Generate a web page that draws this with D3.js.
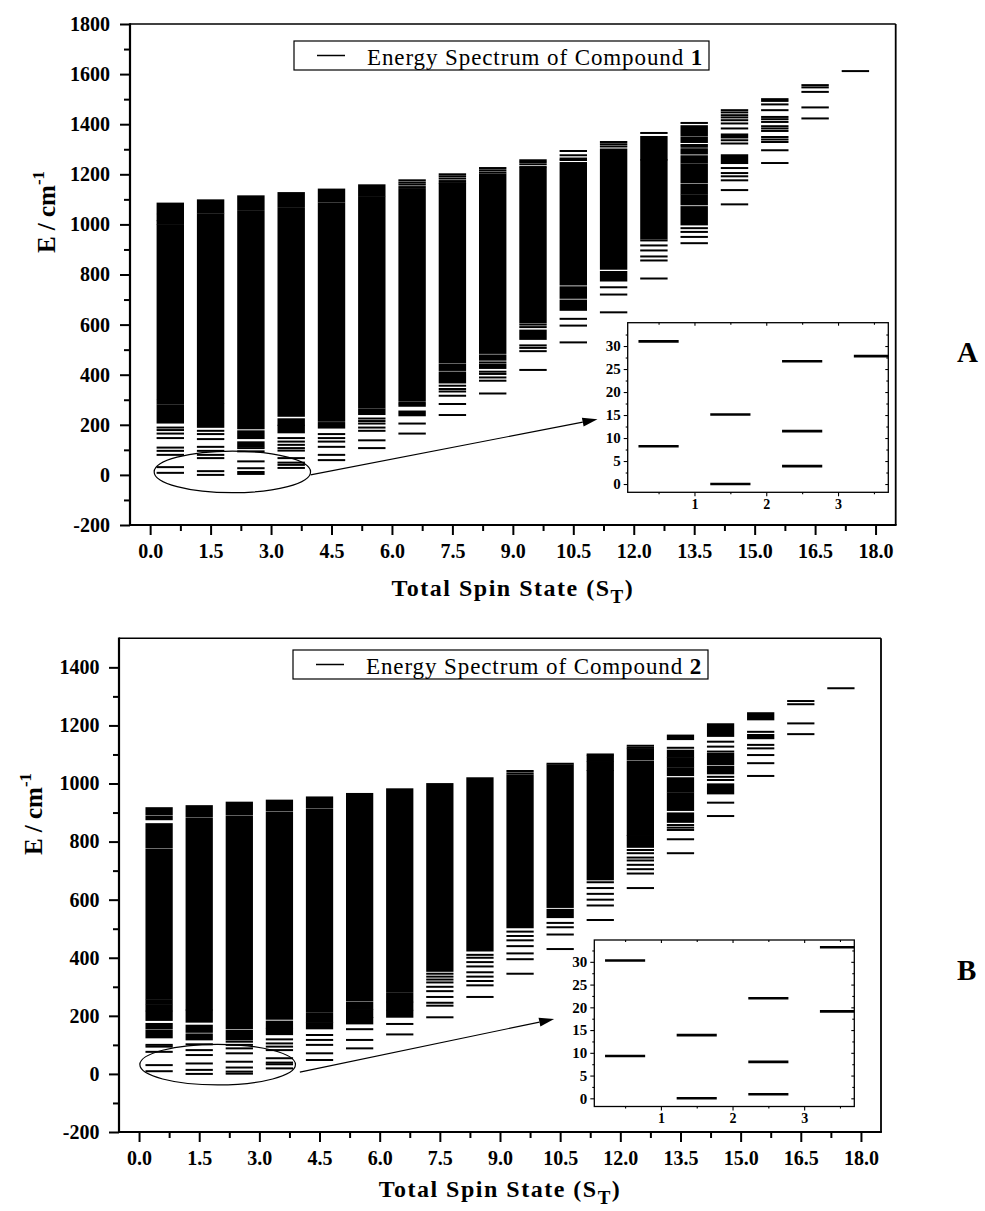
<!DOCTYPE html>
<html><head><meta charset="utf-8">
<script src="https://cdnjs.cloudflare.com/ajax/libs/d3/7.8.5/d3.min.js"></script>
<style>body{margin:0;background:#fff}svg{display:block}svg text{font-family:"Liberation Serif","Times New Roman",Times,serif !important}</style>
</head><body><svg id="c" width="985" height="1211"></svg>
<script>
// ---------------- DATA ----------------
const spinStates = [0.5,1.5,2.5,3.5,4.5,5.5,6.5,7.5,8.5,9.5,10.5,11.5,12.5,13.5,14.5,15.5,16.5,17.5];
const xTickValues = [0,1.5,3,4.5,6,7.5,9,10.5,12,13.5,15,16.5,18];
const xTickLabels = ["0.0","1.5","3.0","4.5","6.0","7.5","9.0","10.5","12.0","13.5","15.0","16.5","18.0"];
const yTicksA = [-200,0,200,400,600,800,1000,1200,1400,1600,1800];
const yTicksB = [-200,0,200,400,600,800,1000,1200,1400];

// dense (merged) ranges of levels per spin state, [low, high] in cm-1 — compound 1
const bandsA = [
  [[1045,1083],[1017,1038],[1003,1012],[303,997],[284,296],[209,276]],
  [[1047,1096],[287,1040],[192,280]],
  [[1061,1112],[186,1053],[147,174],[114,130]],
  [[1073,1125],[236,1065],[200,222],[170,196]],
  [[1092,1139],[216,1084],[189,207]],
  [[1116,1156],[269,1109],[243,261]],
  [[299,1141],[238,253]],
  [[449,1159],[419,440],[369,409]],
  [[487,1199],[460,477],[427,440]],
  [[609,1223],[543,576]],
  [[760,1245],[707,749],[659,696]],
  [[823,1299],[776,810]],
  [[1259,1349],[944,1256]],
  [[1356,1392],[1329,1347],[1283,1300],[1247,1272],[1169,1239],[1123,1159],[1080,1116],[1000,1069]],
  [[1347,1359],[1245,1276]],
  [],
  [],
  []
];
// isolated levels per spin state — compound 1
const levelsA = [
  [189,179,165,147,109,96,80,31,8.2],
  [176,163,143,112,96,80,67,15,0],
  [107,94,54,26.7,11.5,3.9],
  [147,133,120,107,97,67,49,40,27.8],
  [163,147,133,112,80,59],
  [225,215,205,189,176,138,107],
  [1176,1167,1159,1149,290,283,276,205,165],
  [1200,1192,1183,1173,1165,356,343,333,316,283,239],
  [1225,1216,1207,449,412,403,389,376,325],
  [1256,1249,1240,1229,600,590,517,507,494,419],
  [1293,1276,1263,1257,623,596,529],
  [1329,1320,1311,749,720,649],
  [1365,936,916,896,872,856,784],
  [1405,1317,1310,985,970,950,925],
  [1456,1447,1436,1427,1416,1403,1383,1336,1323,1225,1205,1192,1176,1137,1080],
  [1500,1493,1479,1456,1429,1420,1409,1392,1383,1373,1349,1339,1329,1296,1245],
  [1556,1547,1529,1467,1423],
  [1612]
];
// compound 2
const bandsB = [
  [[894,915],[877,886],[780,860],[260,772],[243,254],[219,237],[186,214],[157,172],[126,149]],
  [[886,922],[222,878],[180,218],[145,166],[119,136]],
  [[893,934],[158,885],[119,149]],
  [[907,941],[190,899],[160,180],[137,155]],
  [[919,952],[216,911],[180,209],[157,175]],
  [[253,964],[225,245],[196,220],[174,192]],
  [[285,980],[250,278],[222,245],[197,217]],
  [[355,998]],
  [[425,1018]],
  [[505,1028]],
  [[575,1062],[540,565]],
  [[1079,1095],[1047,1074],[670,1043]],
  [[1083,1118],[823,1075],[782,819]],
  [[1153,1165],[1092,1113],[1058,1087],[1029,1052],[972,1018],[909,966],[868,897]],
  [[1164,1204],[1067,1102],[1035,1058],[966,997]],
  [[1221,1242],[1156,1167]],
  [],
  []
];
const levelsB = [
  [100,94,76,30.3,9.3],
  [102,82,65,36,13.9,0],
  [111,100,88,71,42,22,8,0.9],
  [119,105,94,82,54,39,33.2,19.1],
  [134,117,100,71,48],
  [154,117,88],
  [172,136],
  [345,335,325,315,300,285,265,245,235,195],
  [410,400,385,370,350,335,320,305,265],
  [1043,1035,490,475,460,440,415,395,345],
  [1068,520,505,480,430],
  [1100,660,640,620,600,580,530],
  [1130,1123,771,760,745,735,720,705,690,640],
  [1123,857,848,840,808,760],
  [1144,1127,1110,1023,1012,934,888],
  [1178,1133,1121,1098,1070,1026],
  [1284,1273,1207,1170],
  [1328]
];
// insets: lowest levels
const insetStates = [0.5,1.5,2.5,3.5];
const insetLevelsA = [[31.0,8.2],[15.1,0],[26.7,11.5,3.9],[27.8]];
const insetLevelsB = [[30.3,9.3],[13.9,0],[22.0,8.0,0.9],[33.2,19.1]];
const insetYTicks = [0,5,10,15,20,25,30];
const insetYMinor = [2.5,7.5,12.5,17.5,22.5,27.5,32.5];
const insetXTicks = [1,2,3];
const insetXMinor = [0.5,1.5,2.5,3.5];
// annotation (data coordinates): ellipse around low levels, arrow to inset
const ellipseA = {s:2.04, e:12, rs:1.94, re:83};
const arrowA = {from:[3.98,0], to:[11.1,222]};
const ellipseB = {s:1.96, e:32, rs:1.94, re:70};
const arrowB = {from:[4.01,6], to:[10.35,189]};

// ---------------- DRAW ----------------
const HALF = 0.34, IHALF = 0.28;
const svg = d3.select('#c');
svg.append('rect').attr('width',985).attr('height',1211).attr('fill','#fff');
const defs = svg.append('defs');

function styleAxis(a, fs){
  a.attr('font-family',null).attr('font-size',null);
  a.select('.domain').remove();
  a.selectAll('line').attr('stroke','#000');
  a.selectAll('text').style('font-weight','bold').style('font-size',fs+'px').attr('fill','#000');
}

function drawPanel(cfg){
  const g = svg.append('g');
  const x = d3.scaleLinear().domain([-0.5,18.5]).range([cfg.left,cfg.right]);
  const y = d3.scaleLinear().domain(cfg.yDomain).range([cfg.bottom,cfg.top]);

  const bandData = cfg.bands.flatMap((arr,i)=>arr.map(b=>({s:spinStates[i],lo:b[0],hi:b[1]})));
  g.selectAll('rect.band').data(bandData).join('rect').attr('class','band')
    .attr('x',d=>x(d.s-HALF)).attr('width',d=>x(d.s+HALF)-x(d.s-HALF))
    .attr('y',d=>y(d.hi)-1).attr('height',d=>y(d.lo)-y(d.hi)+2).attr('fill','#000');
  const levelData = cfg.levels.flatMap((arr,i)=>arr.map(e=>({s:spinStates[i],e})));
  g.selectAll('line.lvl').data(levelData).join('line').attr('class','lvl')
    .attr('x1',d=>x(d.s-HALF)).attr('x2',d=>x(d.s+HALF))
    .attr('y1',d=>y(d.e)).attr('y2',d=>y(d.e)).attr('stroke','#000').attr('stroke-width',2);

  // axes
  const yMinor = cfg.yTicks.map(v=>v+100).filter(v=>v<cfg.yDomain[1]);
  const aL = g.append('g').attr('transform',`translate(${cfg.left},0)`)
    .call(d3.axisLeft(y).tickValues(cfg.yTicks).tickSize(10).tickPadding(cfg.yPad).tickFormat(d=>String(d)));
  styleAxis(aL,20); aL.selectAll('line').attr('stroke-width',2);
  const aLm = g.append('g').attr('transform',`translate(${cfg.left},0)`)
    .call(d3.axisLeft(y).tickValues(yMinor).tickSize(6).tickFormat(''));
  styleAxis(aLm,20); aLm.selectAll('line').attr('stroke-width',2);
  const xMinor = xTickValues.slice(0,-1).map(v=>v+0.75);
  const aB = g.append('g').attr('transform',`translate(0,${cfg.bottom})`)
    .call(d3.axisBottom(x).tickValues(xTickValues).tickSize(10).tickPadding(9).tickFormat((d,i)=>xTickLabels[i]));
  styleAxis(aB,20); aB.selectAll('line').attr('stroke-width',2);
  const aBm = g.append('g').attr('transform',`translate(0,${cfg.bottom})`)
    .call(d3.axisBottom(x).tickValues(xMinor).tickSize(6).tickFormat(''));
  styleAxis(aBm,20); aBm.selectAll('line').attr('stroke-width',2);

  // frame
  g.append('line').attr('x1',cfg.left).attr('x2',cfg.right).attr('y1',cfg.top).attr('y2',cfg.top).attr('stroke','#000').attr('stroke-width',1.6);
  g.append('line').attr('x1',cfg.right).attr('x2',cfg.right).attr('y1',cfg.top).attr('y2',cfg.bottom).attr('stroke','#000').attr('stroke-width',1.8);
  g.append('line').attr('x1',cfg.left).attr('x2',cfg.left).attr('y1',cfg.top-0.8).attr('y2',cfg.bottom+1).attr('stroke','#000').attr('stroke-width',2.2);
  g.append('line').attr('x1',cfg.left-1).attr('x2',cfg.right+0.9).attr('y1',cfg.bottom).attr('y2',cfg.bottom).attr('stroke','#000').attr('stroke-width',2.2);

  // axis titles
  const yt = g.append('text').attr('transform',`translate(${cfg.yTitleX},${cfg.yTitleY}) rotate(-90)`)
    .attr('text-anchor','middle').style('font-weight','bold').style('font-size','25px');
  yt.append('tspan').text('E / cm');
  yt.append('tspan').attr('dy',-11).style('font-size','17px').text('-1');
  const xt = g.append('text').attr('x',(cfg.left+cfg.right)/2).attr('y',cfg.xTitleY)
    .attr('text-anchor','middle').style('font-weight','bold').style('font-size','24px').style('letter-spacing','1.5px');
  xt.append('tspan').text('Total Spin State (S');
  xt.append('tspan').attr('dy',7).style('font-size','19px').text('T');
  xt.append('tspan').attr('dy',-7).text(')');

  // legend
  const L = cfg.legend;
  g.append('rect').attr('x',L.x).attr('y',L.y).attr('width',L.w).attr('height',L.h).attr('fill','#fff').attr('stroke','#000').attr('stroke-width',1.2);
  g.append('line').attr('x1',L.x+23).attr('x2',L.x+51).attr('y1',L.y+L.h/2).attr('y2',L.y+L.h/2).attr('stroke','#000').attr('stroke-width',1.5);
  const lt = g.append('text').attr('x',L.x+73).attr('y',L.y+24).style('font-size','23px').style('letter-spacing','0.9px');
  lt.append('tspan').text('Energy Spectrum of Compound ');
  lt.append('tspan').style('font-weight','bold').text(cfg.compound);

  // ellipse + arrow
  const E = cfg.ellipse;
  g.append('ellipse').attr('cx',x(E.s)).attr('cy',y(E.e)).attr('rx',x(E.s+E.rs)-x(E.s)).attr('ry',y(E.e)-y(E.e+E.re))
    .attr('fill','none').attr('stroke','#000').attr('stroke-width',1.2);
  const A = cfg.arrow;
  const x1=x(A.from[0]), y1=y(A.from[1]), x2=x(A.to[0]), y2=y(A.to[1]);
  const ang = Math.atan2(y2-y1,x2-x1), len=15, wid=4.5;
  const bx = x2-len*Math.cos(ang), by = y2-len*Math.sin(ang);
  g.append('line').attr('x1',x1).attr('y1',y1).attr('x2',bx).attr('y2',by).attr('stroke','#000').attr('stroke-width',1.2);
  g.append('path').attr('d',`M${x2},${y2}L${bx-wid*Math.sin(ang)},${by+wid*Math.cos(ang)}L${bx+wid*Math.sin(ang)},${by-wid*Math.cos(ang)}Z`).attr('fill','#000');

  // inset
  drawInset(g, cfg.inset, cfg.insetLevels, cfg.id);

  // panel letter
  g.append('text').attr('x',cfg.letterX).attr('y',cfg.letterY).style('font-weight','bold').style('font-size','29px').text(cfg.letter);
}

function drawInset(g, ins, levels, id){
  const x = d3.scaleLinear().domain(ins.xDomain).range([ins.left,ins.right]);
  const y = d3.scaleLinear().domain(ins.yDomain).range([ins.bottom,ins.top]);
  g.append('rect').attr('x',ins.left).attr('y',ins.top).attr('width',ins.right-ins.left).attr('height',ins.bottom-ins.top).attr('fill','#fff');
  defs.append('clipPath').attr('id','clip'+id).append('rect').attr('x',ins.left).attr('y',ins.top).attr('width',ins.right-ins.left).attr('height',ins.bottom-ins.top);
  const cg = g.append('g').attr('clip-path',`url(#clip${id})`);
  const data = levels.flatMap((arr,i)=>arr.map(e=>({s:insetStates[i],e})));
  cg.selectAll('line').data(data).join('line')
    .attr('x1',d=>x(d.s-IHALF)).attr('x2',d=>x(d.s+IHALF)).attr('y1',d=>y(d.e)).attr('y2',d=>y(d.e))
    .attr('stroke','#000').attr('stroke-width',2.6);
  const mk = (axis, tr, vals, size, fmt, fs) => {
    const a = g.append('g').attr('transform',tr).call(axis.tickValues(vals).tickSize(size).tickPadding(3).tickFormat(fmt));
    styleAxis(a, fs); a.selectAll('line').attr('stroke-width',1.1);
    return a;
  };
  mk(d3.axisLeft(y), `translate(${ins.left},0)`, insetYTicks, 4, d=>String(d), ins.fs);
  mk(d3.axisLeft(y), `translate(${ins.left},0)`, insetYMinor, 2, '', ins.fs);
  mk(d3.axisRight(y), `translate(${ins.right},0)`, insetYTicks, -3, '', ins.fs);
  mk(d3.axisRight(y), `translate(${ins.right},0)`, insetYMinor, -2, '', ins.fs);
  mk(d3.axisBottom(x), `translate(0,${ins.bottom})`, insetXTicks, 4, d=>String(d), ins.fs-1);
  mk(d3.axisBottom(x), `translate(0,${ins.bottom})`, insetXMinor, 2, '', ins.fs);
  mk(d3.axisTop(x), `translate(0,${ins.top})`, insetXTicks, -3, '', ins.fs);
  mk(d3.axisTop(x), `translate(0,${ins.top})`, insetXMinor, -2, '', ins.fs);
  g.append('rect').attr('x',ins.left).attr('y',ins.top).attr('width',ins.right-ins.left).attr('height',ins.bottom-ins.top)
    .attr('fill','none').attr('stroke','#000').attr('stroke-width',1.3);
}

drawPanel({
  id:'A', letter:'A', letterX:957, letterY:362, compound:'1',
  left:130, right:895.7, top:24, bottom:525, yDomain:[-200,1800], yTicks:yTicksA, yPad:10,
  bands:bandsA, levels:levelsA,
  yTitleX:55, yTitleY:212, xTitleY:596,
  legend:{x:294, y:41, w:415, h:29},
  ellipse:ellipseA, arrow:arrowA,
  inset:{left:627.7, right:888.3, top:322.7, bottom:492.3, xDomain:[0.07,3.7], yDomain:[-1.8,35.07], fs:15},
  insetLevels:insetLevelsA
});
drawPanel({
  id:'B', letter:'B', letterX:957, letterY:980, compound:'2',
  left:119, right:881, top:638.3, bottom:1132, yDomain:[-200,1500], yTicks:yTicksB, yPad:9.5,
  bands:bandsB, levels:levelsB,
  yTitleX:42, yTitleY:814, xTitleY:1197,
  legend:{x:293, y:650, w:415, h:29},
  ellipse:ellipseB, arrow:arrowB,
  inset:{left:594.3, right:854.3, top:940, bottom:1106.5, xDomain:[0.07,3.7], yDomain:[-1.8,34.8], fs:15},
  insetLevels:insetLevelsB
});
</script></body></html>
